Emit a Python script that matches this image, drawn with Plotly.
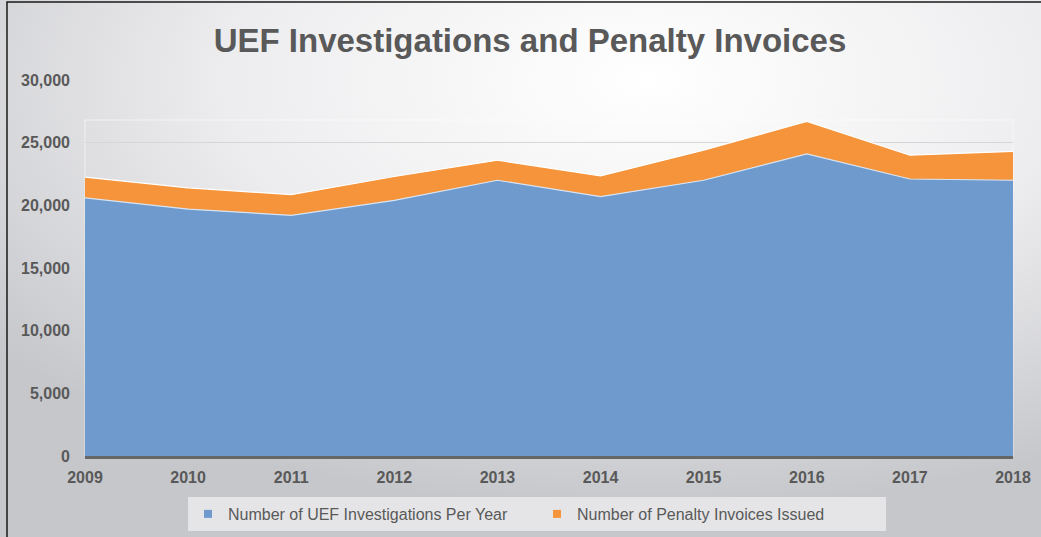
import base64
import plotly.graph_objects as go

years = [2009, 2010, 2011, 2012, 2013, 2014, 2015, 2016, 2017, 2018]
investigations = [20600, 19700, 19200, 20400, 22000, 20700, 22000, 24100, 22100, 22000]
penalty_invoices = [1650, 1700, 1650, 1900, 1600, 1650, 2400, 2600, 1900, 2300]

series_names = ["Number of UEF Investigations Per Year", "Number of Penalty Invoices Issued"]
series_colors = ["#6E9ACD", "#F5943A"]
y_ticks = [0, 5000, 10000, 15000, 20000, 25000, 30000]

W, H = 1041, 537
ML, MR, MT, MB = 85, 28, 80, 81
PW, PH = W - ML - MR, H - MT - MB

svg = f'''<svg xmlns="http://www.w3.org/2000/svg" width="{W}" height="{H}" viewBox="0 0 {W} {H}" preserveAspectRatio="none">
<defs><radialGradient id="g" cx="0.62" cy="0.15" r="0.8" gradientUnits="objectBoundingBox">
<stop offset="0" stop-color="#FFFFFF"/><stop offset="0.5" stop-color="#EDEDEF"/>
<stop offset="1" stop-color="#C6C7CB"/></radialGradient></defs>
<rect x="0" y="0" width="{W}" height="{H}" fill="url(#g)"/></svg>'''
bg_uri = "data:image/svg+xml;base64," + base64.b64encode(svg.encode()).decode()

fig = go.Figure()
fig.add_trace(go.Scatter(
    x=years, y=investigations, name=series_names[0], mode="lines",
    stackgroup="one", line=dict(color="#D6E3F2", width=1.2),
    fillcolor=series_colors[0], showlegend=False,
))
fig.add_trace(go.Scatter(
    x=years, y=penalty_invoices, name=series_names[1], mode="lines",
    stackgroup="one", line=dict(color="#FFFFFF", width=1.2),
    fillcolor=series_colors[1], showlegend=False,
))
# legend entries with square swatches
for name, col in zip(series_names, series_colors):
    fig.add_trace(go.Scatter(
        x=[None], y=[None], name=name, mode="markers",
        marker=dict(symbol="square", size=8, color=col), showlegend=True,
    ))

def px_x(p):
    return (p - ML) / PW

def px_y(p):
    return (H - MB - p) / PH

fig.update_layout(
    width=W, height=H,
    margin=dict(l=ML, r=MR, t=MT, b=MB, autoexpand=False),
    paper_bgcolor="#D8D9DC",
    plot_bgcolor="rgba(0,0,0,0)",
    font=dict(family="Liberation Sans, Arial, sans-serif", color="#595959"),
    title=dict(
        text="<b>UEF Investigations and Penalty Invoices</b>",
        x=px_x(530), xref="paper", xanchor="center",
        y=1 - 40 / H, yref="container", yanchor="middle",
        font=dict(size=33, color="#595959"),
    ),
    images=[dict(
        source=bg_uri, xref="paper", yref="paper",
        x=px_x(0), y=px_y(0), sizex=W / PW, sizey=H / PH,
        xanchor="left", yanchor="top", sizing="stretch", layer="below",
    )],
    legend=dict(
        orientation="h", x=px_x(537), xanchor="center",
        y=px_y(497), yanchor="top",
        bgcolor="rgba(234,234,236,0.85)",
        font=dict(size=16, color="#595959"),
        entrywidth=304, itemwidth=30,
        traceorder="normal",
    ),
    xaxis=dict(
        range=[years[0], years[-1]], tickvals=years,
        ticktext=[str(y) for y in years],
        showgrid=False, zeroline=False, automargin=False,
        showline=True, linecolor="#666666", linewidth=2.5,
        tickfont=dict(size=16, color="#595959", weight="bold"),
        ticks="", ticklabelstandoff=5,
    ),
    yaxis=dict(
        range=[0, 30000], tickvals=y_ticks,
        ticktext=[f"{v:,}" for v in y_ticks],
        showgrid=True, gridcolor="#D6D6D8", gridwidth=1,
        zeroline=False, showline=False, automargin=False,
        tickfont=dict(size=16, color="#595959", weight="bold"),
        ticks="", ticklabelstandoff=14,
    ),
    shapes=[
        dict(type="rect", xref="paper", yref="paper",
             x0=px_x(7), x1=px_x(1100), y0=px_y(600), y1=px_y(2),
             line=dict(color="#1A1A1A", width=1.5), fillcolor="rgba(0,0,0,0)", layer="above"),
        dict(type="rect", xref="paper", yref="paper",
             x0=0, x1=1, y0=0, y1=px_y(120),
             line=dict(color="rgba(255,255,255,0.55)", width=1), fillcolor="rgba(0,0,0,0)", layer="below"),
    ],
)

fig.write_html(
    "out.html",
    config={"displayModeBar": False},
    post_script="document.body.style.margin='0';document.body.style.padding='0';",
)
